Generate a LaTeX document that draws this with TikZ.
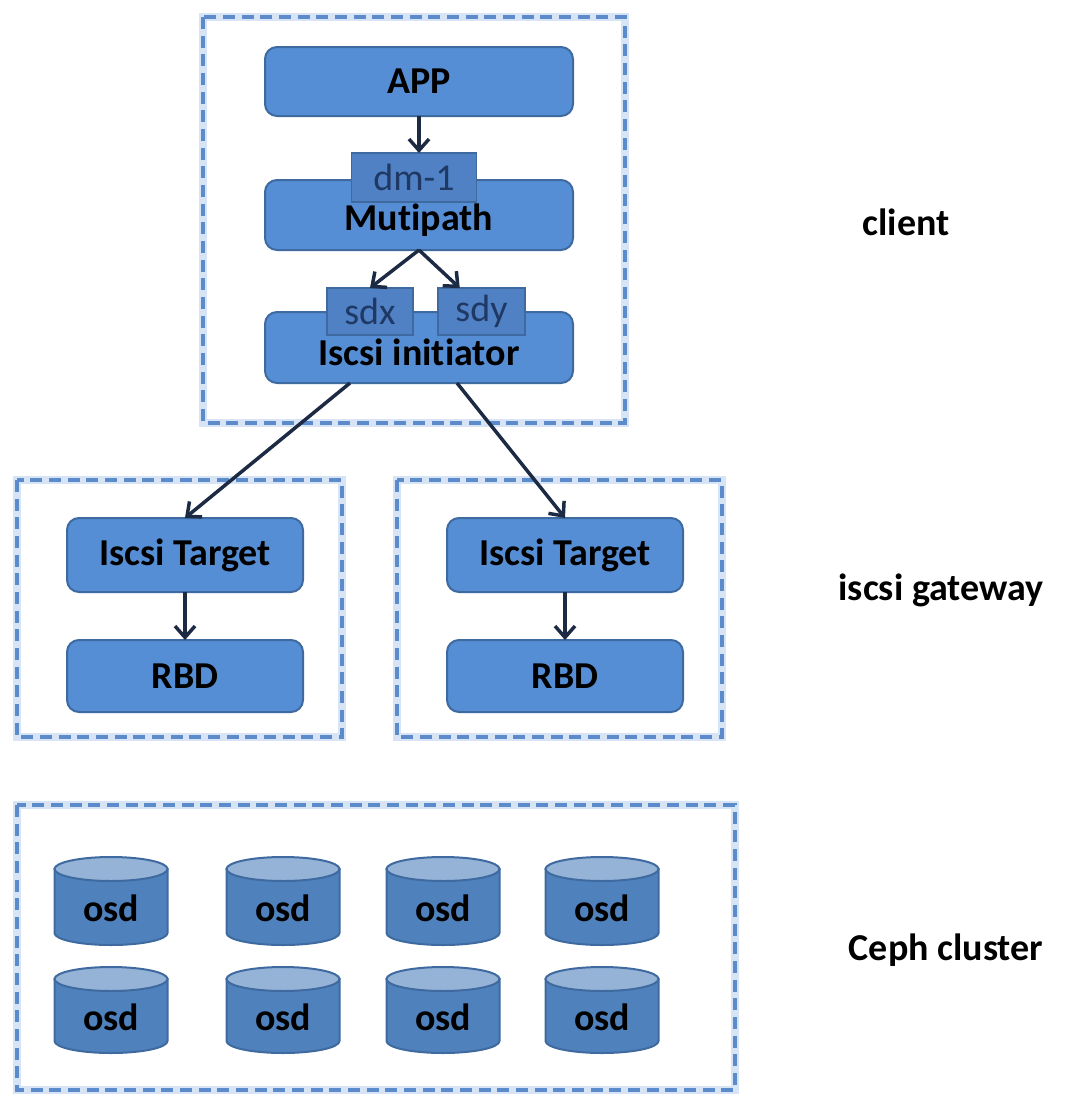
\documentclass[tikz,border=0pt]{standalone}
\usepackage{fontspec}
\setmainfont{Carlito}[Ligatures=NoCommon]
\usetikzlibrary{arrows.meta,calc}
\definecolor{boxfill}{HTML}{558ED5}
\definecolor{boxline}{HTML}{3F6AA0}
\definecolor{tagfill}{HTML}{4F81C4}
\definecolor{tagtext}{HTML}{1F3864}
\definecolor{dashcol}{HTML}{5B8BCB}
\definecolor{glowcol}{HTML}{D6E4F5}
\definecolor{arrowcol}{HTML}{1C2A44}
\definecolor{cylbody}{HTML}{4F81BD}
\definecolor{cyltop}{HTML}{95B3D7}
\begin{document}
\begin{tikzpicture}[x=0.75pt,y=0.75pt,
  every node/.style={inner sep=0pt,outer sep=0pt},
  bigbox/.style={draw=boxline,fill=boxfill,line width=1.5pt,rounded corners=9pt,
    font=\fontsize{28.5}{30}\selectfont\bfseries,text=black},
  tagbox/.style={draw=boxline,fill=tagfill,line width=1.2pt,
    font=\fontsize{28.5}{30}\selectfont,text=tagtext},
  txt/.style={font=\fontsize{28.5}{30}\selectfont\bfseries,text=black},
  conn/.style={draw=arrowcol,line width=2.6pt,-{Straight Barb[length=8.5pt,width=15pt,line width=2.6pt]}},
  glow/.style={draw=glowcol,line width=6pt},
  dashbox/.style={draw=dashcol,line width=2.4pt,dash pattern=on 9pt off 5pt}
]
\useasboundingbox (0,0) rectangle (1066,-1108);
\fill[white] (0,0) rectangle (1066,-1108);

% dashed containers
\foreach \a/\b/\c/\d in {203/-17/625/-423, 17/-480/342/-737, 397/-480/722/-737, 17/-805/735/-1090}{
  \draw[glow] (\a,\b) rectangle (\c,\d);
  \draw[dashbox] (\a,\b) rectangle (\c,\d);
}

% client
\node[bigbox,minimum width=308*0.75pt,minimum height=69*0.75pt] (app) at (419,-81.5) {APP};
\node[bigbox,minimum width=308*0.75pt,minimum height=70*0.75pt] (mp) at (419,-215) {};
\node[txt] (mptext) at (419,-220) {Mutipath};
\node[tagbox,minimum width=125*0.75pt,minimum height=49*0.75pt] (dm) at (414,-177.5) {dm-1};
\node[bigbox,minimum width=308*0.75pt,minimum height=71*0.75pt] (ini) at (419,-347.5) {};
\node[txt] (initext) at (419,-352) {Iscsi initiator};
\node[tagbox,minimum width=86*0.75pt,minimum height=47*0.75pt] (sdx) at (370,-311.5) {sdx};
\node[tagbox,minimum width=87*0.75pt,minimum height=47*0.75pt] (sdy) at (481.5,-311.5) {sdy};

% gateways
\node[bigbox,minimum width=236*0.75pt,minimum height=74*0.75pt] (tgl) at (185,-555) {Iscsi Target};
\node[bigbox,minimum width=236*0.75pt,minimum height=72*0.75pt] (rbdl) at (185,-676) {RBD};
\node[bigbox,minimum width=236*0.75pt,minimum height=74*0.75pt] (tgr) at (565,-555) {Iscsi Target};
\node[bigbox,minimum width=236*0.75pt,minimum height=72*0.75pt] (rbdr) at (565,-676) {RBD};

% connectors
\draw[conn] (app.south) -- (app.south |- dm.north);
\draw[conn] (mp.south) -- (sdx.north);
\draw[conn] (mp.south) -- ($(sdy.north west)!0.25!(sdy.north east)$);
\draw[conn] ($(ini.south)+(-69,0)$) -- (tgl.north);
\draw[conn] ($(ini.south)+(38,0)$) -- (tgr.north);
\draw[conn] (tgl.south) -- (rbdl.north);
\draw[conn] (tgr.south) -- (rbdr.north);

% osd cylinders
\foreach \cx [count=\i] in {111,283,443,602}{
  \foreach \t/\bt/\ty/\r in {869/933/-908/1, 979/1041/-1017/2}{
    \filldraw[fill=cylbody,draw=boxline,line width=1.5pt]
      (\cx-56.5,-\t) -- (\cx-56.5,-\bt)
      arc[start angle=180,end angle=360,x radius=56.5,y radius=12]
      -- (\cx+56.5,-\t) -- cycle;
    \filldraw[fill=cyltop,draw=boxline,line width=1.5pt]
      (\cx,-\t) ellipse[x radius=56.5,y radius=12];
    \node[txt] (osd\r\i) at (\cx,\ty) {osd};
  }
}

% labels
\node[txt] (lclient) at (906,-222) {client};
\node[txt] (lgw) at (941,-590) {iscsi gateway};
\node[txt] (lceph) at (946,-950) {Ceph cluster};
\end{tikzpicture}
\end{document}
